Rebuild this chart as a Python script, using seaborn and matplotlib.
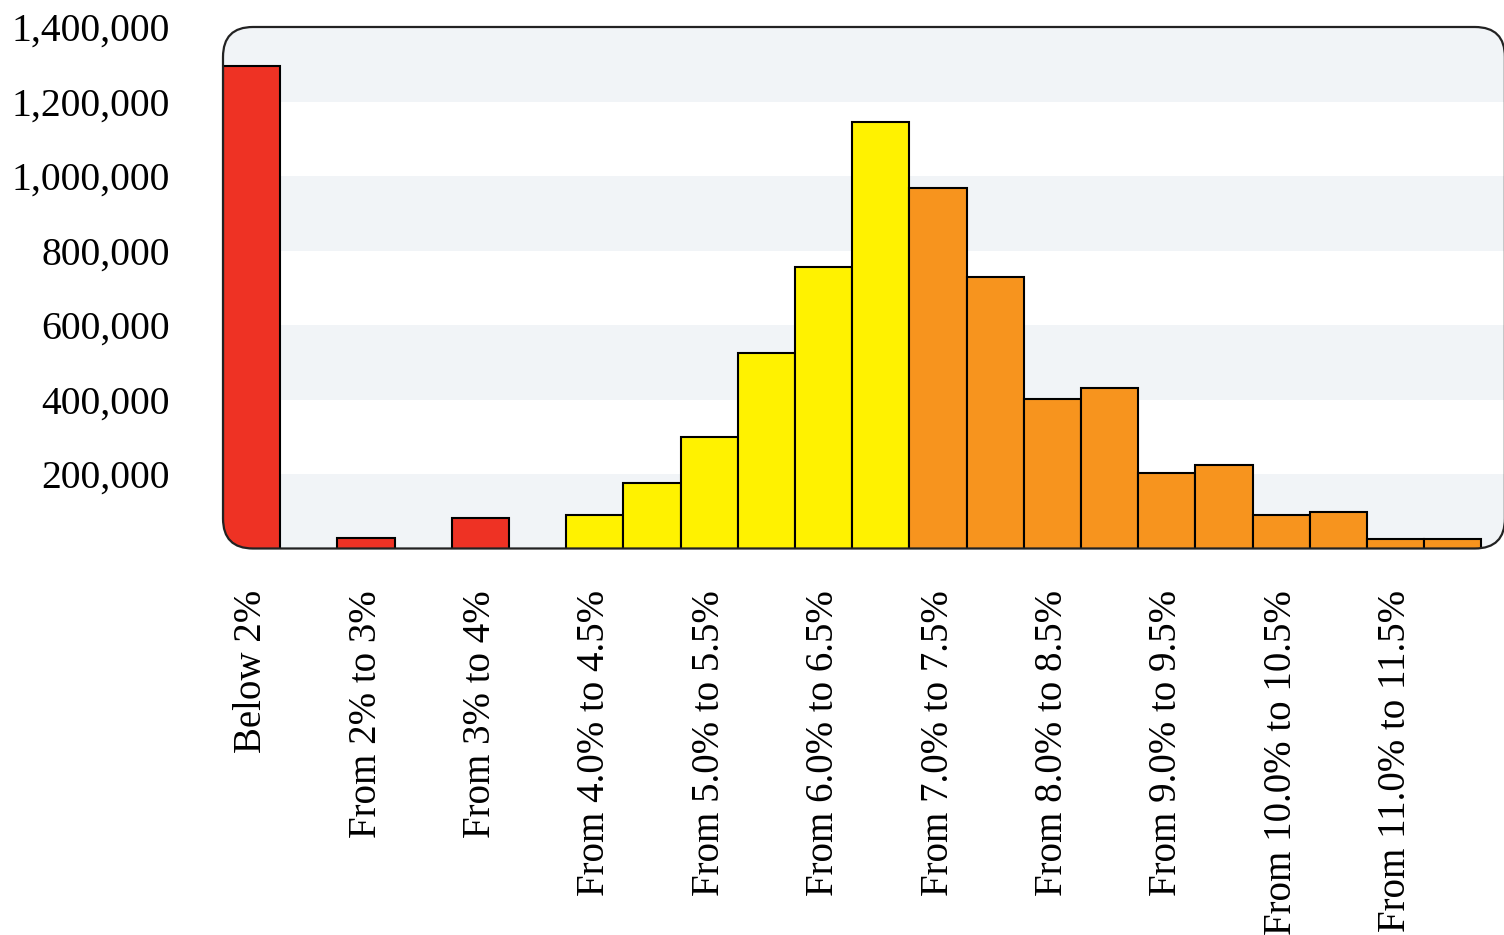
import pandas as pd
import seaborn as sns
import matplotlib.pyplot as plt
from matplotlib.patches import FancyBboxPatch
from matplotlib.transforms import IdentityTransform
from matplotlib.ticker import FuncFormatter

# Datos: tramos de tipo de interés (solo se rotulan los pares)
bin_labels = [
    "Below 2%", "From 2% to 3%", "From 3% to 4%", "From 4.0% to 4.5%",
    "From 5.0% to 5.5%", "From 6.0% to 6.5%", "From 7.0% to 7.5%",
    "From 8.0% to 8.5%", "From 9.0% to 9.5%", "From 10.0% to 10.5%",
    "From 11.0% to 11.5%",
]
bin_pos = list(range(22))
values = [
    1294000, 0, 28000, 0, 82000, 0,
    90000, 177000, 300000, 525000, 756000, 1144000,
    969000, 730000, 402000, 431000, 204000, 224000, 90000, 97000, 25500, 25500,
]
groups = ["red"] * 6 + ["yellow"] * 6 + ["orange"] * 10
palette = {"red": "#EE3224", "yellow": "#FFF200", "orange": "#F7941E"}
y_ticks = [200000, 400000, 600000, 800000, 1000000, 1200000, 1400000]

df = pd.DataFrame({"pos": bin_pos, "value": values, "group": groups})

sns.set_style("white")
plt.rcParams["font.family"] = ["Liberation Serif", "DejaVu Serif"]
plt.rcParams["text.color"] = "black"
plt.rcParams["xtick.color"] = "black"
plt.rcParams["ytick.color"] = "black"

fig = plt.figure(figsize=(15.04, 9.35), dpi=100)
ax = fig.add_axes([223 / 1504, 1 - 548.5 / 935, 1283 / 1504, 521.5 / 935])

sns.barplot(data=df, x="pos", y="value", hue="group", palette=palette,
            dodge=False, width=1, edgecolor="black", linewidth=1.5,
            saturation=1, legend=False, ax=ax)

ax.set_xlim(-0.5, 21.93)
ax.set_ylim(0, 1400000)

# Marco redondeado en píxeles (borde derecho justo fuera del lienzo)
bb = ax.bbox
fx0, fy0 = bb.x0, bb.y0
fw, fh = 1504.9 - bb.x0, bb.height
frame_bg = FancyBboxPatch((fx0, fy0), fw, fh,
                          boxstyle="round,pad=0,rounding_size=30",
                          transform=IdentityTransform(), facecolor="white",
                          edgecolor="none", zorder=0, clip_on=False)
ax.add_patch(frame_bg)
frame_line = FancyBboxPatch((fx0, fy0), fw, fh,
                            boxstyle="round,pad=0,rounding_size=30",
                            transform=IdentityTransform(), facecolor="none",
                            edgecolor="#222222", linewidth=1.6, zorder=5,
                            clip_on=False)
ax.add_patch(frame_line)

for lo in [0, 400000, 800000, 1200000]:
    band = ax.axhspan(lo, lo + 200000, color="#F1F4F7", lw=0, zorder=0.5)
    band.set_clip_path(frame_bg)

for p in ax.patches:
    if p is not frame_bg and p is not frame_line:
        p.set_clip_path(frame_bg)

ax.patch.set_visible(False)
for s in ax.spines.values():
    s.set_visible(False)

ax.set_xticks(bin_pos[::2])
ax.set_xticklabels(bin_labels, rotation=90, fontsize=28)
ax.set_yticks(y_ticks)
ax.yaxis.set_major_formatter(FuncFormatter(lambda v, _: f"{int(v):,}"))
ax.tick_params(axis="y", length=0, pad=38, labelsize=28.5)
ax.tick_params(axis="x", length=0, pad=30)
ax.set_xlabel("")
ax.set_ylabel("")

fig.savefig("out.png", dpi=100)
